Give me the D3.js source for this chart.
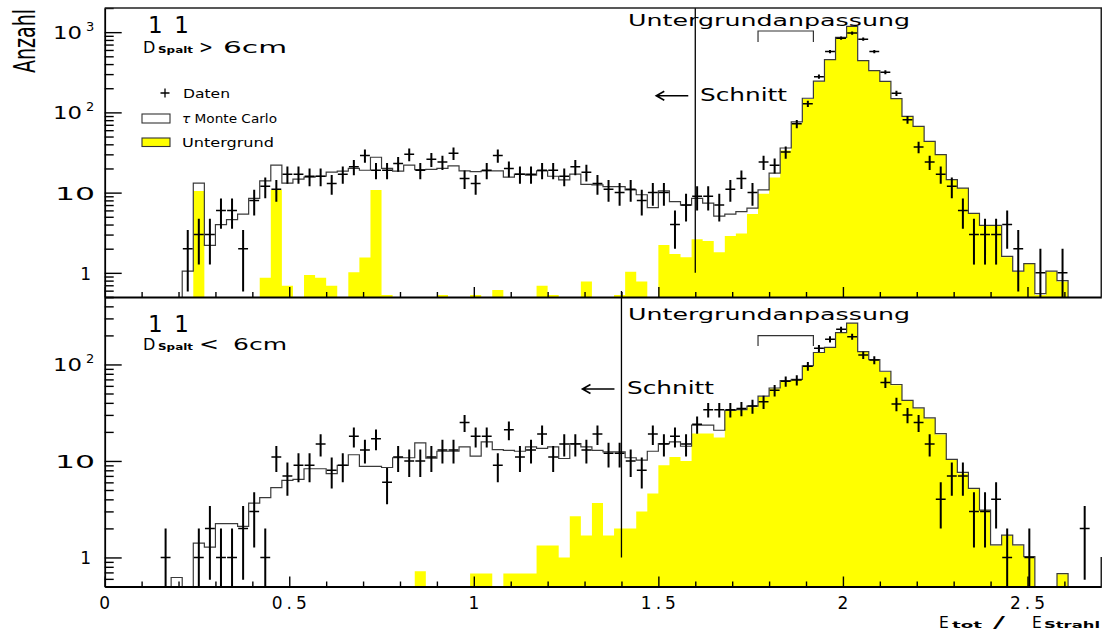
<!DOCTYPE html>
<html>
<head>
<meta charset="utf-8">
<script src="https://cdn.jsdelivr.net/npm/d3@7"></script>
<style>
  html, body { margin: 0; padding: 0; background: #fff; }
  svg { display: block; }
  text { font-family: "DejaVu Sans", "Liberation Sans", sans-serif; fill: #000; }
</style>
</head>
<body>
<svg id="chart" width="1102" height="639"></svg>
<script>
// Histogram binning of E_tot / E_Strahl
const binWidth = 0.03;
const xDomain = [0, 2.7];

// Upper panel: D_Spalt > 6cm
const dataTop = [
  0, 0, 0, 0, 0, 0, 0, 2, 3, 3,
  6, 6, 2, 8, 12, 11, 17, 17, 16, 16,
  13, 17, 21, 29, 19, 19, 23, 30, 19, 26,
  24, 31, 15, 13, 19, 29, 20, 17, 17, 19,
  19, 16, 21, 18, 13, 11, 10, 11, 8, 10,
  10, 4, 7, 9, 9, 7, 11, 15, 10, 24,
  22, 32, 72, 128, 279, 573, 841, 973, 817, 573,
  317, 173, 81, 37, 24, 17, 12, 6, 3, 3,
  3, 4, 2, 0, 1, 0, 1, 0, 0, 0
];
const mcTop = [
  0, 0, 0, 0, 0, 0, 0, 1.05, 13.1, 2.2,
  4, 4.6, 5.4, 8.5, 14, 22, 13.1, 14.7, 15.6, 16,
  18, 18.5, 20, 19, 27.6, 20, 18.5, 22, 19.3, 19.5,
  20, 21.5, 18.7, 18.3, 18.7, 18.7, 15.6, 17, 16.5, 18.7,
  16, 14.4, 17, 12.7, 12.5, 11.9, 11.9, 10.8, 9.4, 6.5,
  10.5, 7.7, 7, 8.5, 7.4, 5.1, 5.4, 5.8, 6.4, 10.8,
  17.5, 36, 76, 150, 245, 455, 860, 1180, 442, 331,
  244, 148, 89, 67, 43.5, 29.7, 14.5, 11.4, 5.5, 3.9,
  3.9, 1.6, 1.05, 1.3, 0.55, 1.05, 0.8, 0, 0, 0
];
const bgTop = [
  0, 0, 0, 0, 0, 0, 0, 0, 10.5, 0,
  0, 0, 0, 0, 0.87, 10.8, 0.69, 0, 0.94, 0.87,
  0.69, 0, 1.02, 1.55, 10.8, 0.53, 0, 0, 0, 0,
  0.53, 0, 0, 0.53, 0, 0.61, 0, 0, 0, 0.69,
  0.53, 0, 0, 0.78, 0, 0, 0.53, 1.03, 0.78, 0,
  2.23, 1.72, 1.56, 2.62, 2.5, 1.8, 2.88, 3.1, 5.4, 9.7,
  15.4, 33.5, 73, 147, 242, 452, 857, 1175, 439, 329,
  242, 147, 88.7, 66.5, 43.3, 29.5, 14.4, 11.3, 5.4, 3.85,
  3.85, 1.56, 1.03, 1.29, 0.53, 1.03, 0.78, 0, 0, 0
];

// Lower panel: D_Spalt < 6cm
const dataBottom = [
  0, 0, 0, 0, 0, 1, 0, 0, 1, 2,
  1, 1, 2, 3, 1, 11, 7, 9, 9, 15,
  8, 9, 18, 13, 17, 6, 11, 10, 10, 11,
  13, 13, 25, 18, 18, 9, 21, 11, 13, 19,
  11, 15, 15, 13, 19, 12, 12, 10, 8, 19,
  15, 18, 15, 24, 34, 34, 34, 35, 37, 41,
  54, 67, 69, 96, 147, 182, 231, 194, 125, 111,
  65, 39, 30, 25, 15, 4, 7, 7, 3, 3,
  4, 1, 0, 1, 0, 0, 0, 0, 2, 0
];
const mcBottom = [
  0, 0, 0, 0, 0, 0, 0.62, 0, 1.41, 1.28,
  2.24, 2.24, 2.1, 3.66, 4.17, 5.3, 6.3, 6.45, 8.3, 8.3,
  7.4, 9, 11.6, 8.8, 8.8, 8.55, 10.8, 10.8, 15.4, 10.7,
  12.6, 12.6, 14, 11.2, 15.8, 13.1, 12.9, 12.6, 14, 13.5,
  14, 10.6, 15.1, 14, 12.9, 12.4, 12.4, 10.8, 10.2, 12.6,
  15.1, 15.8, 14.2, 23.5, 23.5, 20.8, 33.5, 34, 37, 47,
  57, 68, 70, 97, 133, 150, 214, 268, 136, 112,
  85, 62, 42.5, 35.5, 28, 19.2, 10.4, 7.6, 5.2, 3.1,
  1.35, 1.7, 1.35, 1.02, 0, 0, 0.68, 0, 0, 0
];
const bgBottom = [
  0, 0, 0, 0, 0, 0, 0, 0, 0, 0,
  0, 0, 0, 0, 0, 0, 0, 0, 0, 0,
  0, 0, 0, 0, 0, 0, 0, 0, 0.72, 0,
  0, 0, 0, 0.68, 0.68, 0, 0.68, 0.68, 0.68, 1.33,
  1.33, 1.0, 2.67, 1.69, 3.66, 1.69, 2.0, 2.0, 3.0, 4.6,
  9, 11, 10, 19.2, 19.2, 17.5, 33, 33.6, 36, 46,
  56.5, 67.3, 69, 96, 132, 149, 213, 267, 135, 111,
  84, 61, 41.7, 35, 27.5, 18.8, 10.2, 7.4, 5.1, 3.08,
  1.33, 1.69, 1.33, 1.0, 0, 0, 0.67, 0, 0, 0
];

// Cut positions and background-fit window
const cutTop = 1.6;
const cutBottom = 1.4;
const fitRange = [1.77, 1.92];

// Axis ticks
const xMajorTicks = [0, 0.5, 1, 1.5, 2, 2.5];
const xMajorLabels = ["0", "0.5", "1", "1.5", "2", "2.5"];
const yDomainTop = [0.5, 2000];
const yDomainBottom = [0.5, 500];

const svg = d3.select("#chart");
const x = d3.scaleLinear().domain(xDomain).range([104.7, 1101.3]);
const xMinorTicks = d3.range(0, 2.7001, 0.1).map(v => +v.toFixed(2))
  .filter(v => !xMajorTicks.some(m => Math.abs(m - v) < 1e-6));

const panels = [
  { top: 8, bottom: 297, domain: yDomainTop, data: dataTop, mc: mcTop, bg: bgTop,
    cut: cutTop, label: ">", id: "upper", bracketOff: [23, 34], textY: 26,
    arrowY: 95.7, schnittX: 700, schnittY: 101, cutTopY: 8, showXLabels: false },
  { top: 297, bottom: 586.5, domain: yDomainBottom, data: dataBottom, mc: mcBottom, bg: bgBottom,
    cut: cutBottom, label: "<", id: "lower", bracketOff: [38.7, 49], textY: 320,
    arrowY: 389, schnittX: 627, schnittY: 394, cutTopY: 291, showXLabels: true }
];

function majorsFor(domain) {
  const out = [];
  for (let e = -1; e <= 4; e++) {
    const v = Math.pow(10, e);
    if (v >= domain[0] && v <= domain[1]) out.push(v);
  }
  return out;
}
function minorsFor(domain) {
  const out = [];
  for (let e = -1; e <= 4; e++) {
    for (let k = 2; k <= 9; k++) {
      const v = k * Math.pow(10, e);
      if (v >= domain[0] && v <= domain[1]) out.push(v);
    }
  }
  return out;
}

// step outline of a histogram, dropping to the baseline for empty bins
function stepPath(values, yc, base) {
  const path = d3.path();
  path.moveTo(x(0), base);
  values.forEach((v, i) => {
    path.lineTo(x(i * binWidth), yc(v));
    path.lineTo(x((i + 1) * binWidth), yc(v));
  });
  path.lineTo(x(values.length * binWidth), base);
  return path;
}

panels.forEach(p => {
  const y = d3.scaleLog().domain(p.domain).range([p.bottom, p.top]);
  const g = svg.append("g");
  const clipId = "clip-" + p.id;
  svg.append("defs").append("clipPath").attr("id", clipId)
    .append("rect").attr("x", x(xDomain[0])).attr("y", p.top)
    .attr("width", x(xDomain[1]) - x(xDomain[0])).attr("height", p.bottom - p.top);
  const plot = g.append("g").attr("clip-path", `url(#${clipId})`);
  const yc = v => (v > p.domain[0] ? y(v) : p.bottom + 2);

  // background histogram (filled)
  const bgPath = stepPath(p.bg, yc, p.bottom + 2);
  bgPath.closePath();
  plot.append("path").attr("d", bgPath.toString()).attr("fill", "#ffff00").attr("stroke", "none");

  // Monte Carlo histogram outline
  plot.append("path").attr("d", stepPath(p.mc, yc, p.bottom + 2).toString())
    .attr("fill", "none").attr("stroke", "#3a3a3a").attr("stroke-width", 1.2);

  // data points with Poisson errors
  const pts = p.data.map((n, i) => ({ n, i })).filter(d => d.n > 0);
  const cross = plot.selectAll("g.pt").data(pts).join("g").attr("class", "pt");
  cross.append("line")
    .attr("x1", d => x((d.i + 0.5) * binWidth)).attr("x2", d => x((d.i + 0.5) * binWidth))
    .attr("y1", d => Math.min(y(d.n + Math.sqrt(d.n)), y(d.n) - 1.6))
    .attr("y2", d => Math.max(yc(d.n - Math.sqrt(d.n)), y(d.n) + 1.6))
    .attr("stroke", "#000").attr("stroke-width", 2);
  cross.append("line")
    .attr("x1", d => x(d.i * binWidth) + 0.6).attr("x2", d => x((d.i + 1) * binWidth) - 0.6)
    .attr("y1", d => y(d.n)).attr("y2", d => y(d.n))
    .attr("stroke", "#000").attr("stroke-width", 1.5);

  // cut line
  g.append("line").attr("x1", x(p.cut)).attr("x2", x(p.cut))
    .attr("y1", p.cutTopY).attr("y2", y(1))
    .attr("stroke", "#000").attr("stroke-width", 1.3);

  // fit window bracket
  g.append("path")
    .attr("d", `M${x(fitRange[0])},${p.top + p.bracketOff[1]}V${p.top + p.bracketOff[0]}H${x(fitRange[1])}V${p.top + p.bracketOff[1]}`)
    .attr("fill", "none").attr("stroke", "#333").attr("stroke-width", 1.2);
  g.append("text").attr("x", 628).attr("y", p.textY)
    .attr("font-size", 15.5).attr("textLength", 282).attr("lengthAdjust", "spacingAndGlyphs")
    .text("Untergrundanpassung");

  // "<- Schnitt"
  const ax = x(p.cut) - 7;
  g.append("path")
    .attr("d", `M${ax},${p.arrowY}H${ax - 32}M${ax - 24},${p.arrowY - 4.5}L${ax - 32},${p.arrowY}L${ax - 24},${p.arrowY + 4.5}`)
    .attr("fill", "none").attr("stroke", "#000").attr("stroke-width", 1.6);
  g.append("text").attr("x", p.schnittX).attr("y", p.schnittY)
    .attr("font-size", 17).attr("textLength", 87).attr("lengthAdjust", "spacingAndGlyphs")
    .text("Schnitt");

  // y axis (ticks pointing into the plot)
  const yAxisMajor = d3.axisLeft(y).tickValues(majorsFor(p.domain)).tickSize(-17).tickSizeOuter(0).tickFormat("");
  const yAxisMinor = d3.axisLeft(y).tickValues(minorsFor(p.domain)).tickSize(-9).tickSizeOuter(0).tickFormat("");
  const gy = g.append("g").attr("transform", `translate(${x(0)},0)`).call(yAxisMajor);
  g.append("g").attr("transform", `translate(${x(0)},0)`).call(yAxisMinor).select(".domain").remove();
  gy.select(".domain").attr("stroke", "#000").attr("stroke-width", 1.8);

  // decade labels
  majorsFor(p.domain).forEach(v => {
    const e = Math.round(Math.log10(v));
    const ty = y(v);
    if (e === 0) {
      g.append("text").attr("x", 91).attr("y", ty + 7).attr("text-anchor", "end")
        .attr("font-size", 17).text("1");
    } else if (e === 1) {
      g.append("text").attr("x", 55).attr("y", ty + 7)
        .attr("font-size", 17).attr("textLength", 40).attr("lengthAdjust", "spacingAndGlyphs").text("10");
    } else {
      g.append("text").attr("x", 53).attr("y", ty + 7)
        .attr("font-size", 17).attr("textLength", 29).attr("lengthAdjust", "spacingAndGlyphs").text("10");
      g.append("text").attr("x", 86).attr("y", ty - 1)
        .attr("font-size", 13).text(String(e));
    }
  });

  // x axis (ticks pointing up)
  const xAxisMajor = d3.axisBottom(x).tickValues(xMajorTicks).tickSize(-10).tickSizeOuter(0).tickFormat("");
  const xAxisMinor = d3.axisBottom(x).tickValues(xMinorTicks).tickSize(-5).tickSizeOuter(0).tickFormat("");
  const gx = g.append("g").attr("transform", `translate(0,${p.bottom})`).call(xAxisMajor);
  g.append("g").attr("transform", `translate(0,${p.bottom})`).call(xAxisMinor).select(".domain").remove();
  gx.select(".domain").attr("stroke", "#000").attr("stroke-width", 1.8);
  g.selectAll(".tick line").attr("stroke", "#000").attr("stroke-width", 1.4);

  if (p.showXLabels) {
    xMajorTicks.forEach((v, k) => {
      const t = g.append("text").attr("x", x(v)).attr("y", p.bottom + 22)
        .attr("text-anchor", "middle").attr("font-size", 17).text(xMajorLabels[k]);
      if (xMajorLabels[k].length > 1) t.attr("textLength", 35).attr("lengthAdjust", "spacing");
    });
  }

  // panel title
  g.append("text").attr("x", 148).attr("y", p.top + (p.id === "upper" ? 25 : 35))
    .attr("font-size", 23).attr("textLength", 41).attr("lengthAdjust", "spacing").text("1 1");
  const dy = p.top + (p.id === "upper" ? 44.5 : 52.5);
  g.append("text").attr("x", 143).attr("y", dy).attr("font-size", 16).text("D");
  g.append("text").attr("x", 158).attr("y", dy + 0.5).attr("font-size", 9.5)
    .attr("font-weight", "bold").attr("textLength", 35).attr("lengthAdjust", "spacingAndGlyphs").text("Spalt");
  g.append("text").attr("x", 199).attr("y", dy).attr("font-size", 17)
    .attr("textLength", p.label === ">" ? 14 : 20).attr("lengthAdjust", "spacingAndGlyphs").text(p.label);
  g.append("text").attr("x", p.label === ">" ? 223 : 233).attr("y", dy).attr("font-size", 16)
    .attr("textLength", p.label === ">" ? 64 : 54).attr("lengthAdjust", "spacingAndGlyphs").text("6cm");
});

// frame of the upper panel
svg.append("path").attr("d", `M${x(0)},8H${x(2.7)}V297`)
  .attr("fill", "none").attr("stroke", "#222").attr("stroke-width", 1.6);
svg.append("line").attr("x1", x(2.7)).attr("x2", x(2.7)).attr("y1", 557).attr("y2", 586.5)
  .attr("stroke", "#222").attr("stroke-width", 1.6);

// legend
const leg = svg.append("g");
leg.append("path").attr("d", "M160.5,93H169.5M165,88.5V97.5").attr("stroke", "#000").attr("stroke-width", 1.3);
leg.append("text").attr("x", 183).attr("y", 97.5).attr("font-size", 11.5)
  .attr("textLength", 47).attr("lengthAdjust", "spacingAndGlyphs").text("Daten");
leg.append("rect").attr("x", 142).attr("y", 114).attr("width", 28).attr("height", 9)
  .attr("fill", "#fff").attr("stroke", "#333").attr("stroke-width", 1.1);
const mcText = leg.append("text").attr("x", 182).attr("y", 122.5).attr("font-size", 11.5)
  .attr("textLength", 95).attr("lengthAdjust", "spacingAndGlyphs");
mcText.append("tspan").attr("font-style", "italic").text("τ");
mcText.append("tspan").text(" Monte Carlo");
leg.append("rect").attr("x", 142).attr("y", 138).attr("width", 28).attr("height", 8.5)
  .attr("fill", "#ffff00").attr("stroke", "#333").attr("stroke-width", 1.1);
leg.append("text").attr("x", 182).attr("y", 146.5).attr("font-size", 11.5)
  .attr("textLength", 92).attr("lengthAdjust", "spacingAndGlyphs").text("Untergrund");

// y axis title, condensed along its reading direction to a fixed length
const yTitle = svg.append("text").attr("font-size", 30).text("Anzahl");
const yTitleLen = yTitle.node().getComputedTextLength();
yTitle.attr("transform", `translate(35,73) rotate(-90) scale(${64 / yTitleLen},1)`);

// x axis title
const xt = svg.append("g");
xt.append("text").attr("x", 939).attr("y", 627.5).attr("font-size", 15.5).text("E");
xt.append("text").attr("x", 952).attr("y", 628).attr("font-size", 9.5).attr("font-weight", "bold")
  .attr("textLength", 30).attr("lengthAdjust", "spacingAndGlyphs").text("tot");
xt.append("text").attr("x", 993).attr("y", 628).attr("font-size", 16)
  .attr("textLength", 12).attr("lengthAdjust", "spacingAndGlyphs").text("/");
xt.append("text").attr("x", 1032).attr("y", 627.5).attr("font-size", 15.5).text("E");
xt.append("text").attr("x", 1044).attr("y", 628).attr("font-size", 9.5).attr("font-weight", "bold")
  .attr("textLength", 56).attr("lengthAdjust", "spacingAndGlyphs").text("Strahl");
</script>
</body>
</html>
